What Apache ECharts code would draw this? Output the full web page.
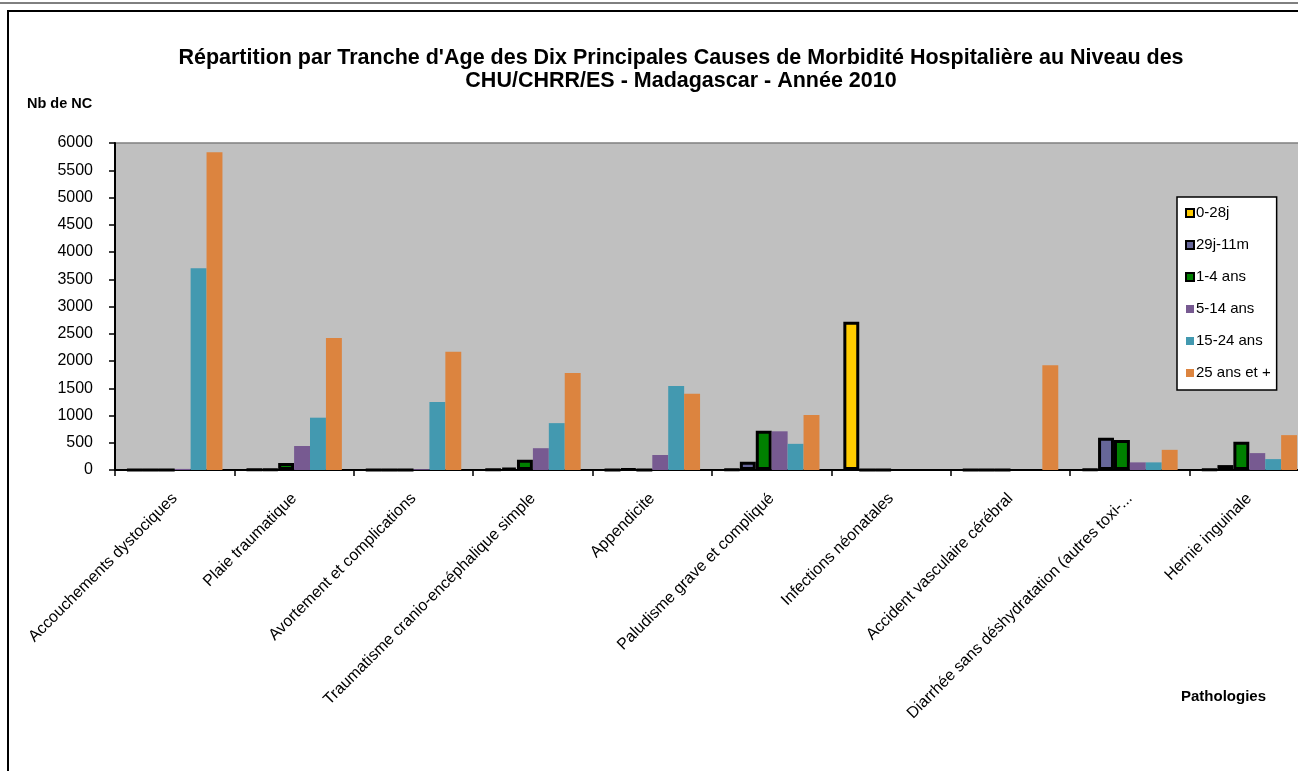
<!DOCTYPE html>
<html><head><meta charset="utf-8">
<script src="https://cdn.jsdelivr.net/npm/echarts@6/dist/echarts.min.js"></script>
<style>html,body{margin:0;padding:0;background:#fff;overflow:hidden;width:1298px;height:771px}#c{width:1316px;height:771px}</style>
</head><body><div id="c"></div>
<script>
const categories = ["Accouchements dystociques","Plaie traumatique","Avortement et complications","Traumatisme cranio-encéphalique simple","Appendicite","Paludisme grave et compliqué","Infections néonatales","Accident vasculaire cérébral","Diarrhée sans déshydratation (autres toxi-...","Hernie inguinale"];
const seriesNames = ["0-28j","29j-11m","1-4 ans","5-14 ans","15-24 ans","25 ans et +"];
const s0_28j   = [0, 5, 0, 5, 0, 10, 2720, 0, 10, 10];
const s29j_11m = [0, 10, 0, 40, 20, 150, 0, 0, 590, 90];
const s1_4     = [0, 130, 0, 190, 0, 720, 0, 0, 550, 520];
const s5_14    = [20, 440, 15, 400, 275, 710, 0, 0, 140, 310];
const s15_24   = [3700, 960, 1250, 860, 1540, 480, 0, 0, 140, 200];
const s25plus  = [5830, 2420, 2170, 1780, 1400, 1010, 0, 1920, 370, 640];
const yTicks = [0,500,1000,1500,2000,2500,3000,3500,4000,4500,5000,5500,6000];

const colors = ["#FFCC00","#666699","#008000","#775A91","#4399B0","#DC843F"];
const bordered = [true,true,true,false,false,false];
const dataArr = [s0_28j,s29j_11m,s1_4,s5_14,s15_24,s25plus];
const F = "'Liberation Sans', Arial, sans-serif";

const chart = echarts.init(document.getElementById('c'));
chart.setOption({
  animation:false,
  backgroundColor:'#fff',
  title:{
    text:"Répartition par Tranche d'Age des Dix Principales Causes de Morbidité Hospitalière au Niveau des\nCHU/CHRR/ES - Madagascar - Année 2010",
    left:676, top:42, textAlign:'center',
    textStyle:{fontFamily:F,fontSize:21.5,fontWeight:'bold',color:'#000',lineHeight:23}
  },
  graphic:[
    {type:'line',shape:{x1:0,y1:3,x2:1316,y2:3},style:{stroke:'#000',lineWidth:1}},
    {type:'line',shape:{x1:7,y1:11,x2:1316,y2:11},style:{stroke:'#000',lineWidth:2}},
    {type:'line',shape:{x1:8,y1:11,x2:8,y2:771},style:{stroke:'#000',lineWidth:2}},
    {type:'text',left:27,top:96,style:{text:'Nb de NC',font:"bold 14.5px 'Liberation Sans', Arial",fill:'#000'}},
    {type:'text',left:1181,top:689,style:{text:'Pathologies',font:"bold 15px 'Liberation Sans', Arial",fill:'#000'}}
  ],
  legend:{
    orient:'vertical', left:1177, top:197,
    backgroundColor:'#fff', borderColor:'#000', borderWidth:1.5,
    padding:[8,6,9,8],
    itemWidth:8, itemHeight:8, itemGap:16,
    textStyle:{fontFamily:F,fontSize:15,color:'#000',lineHeight:16,padding:[0,0,0,-3]},
    data:seriesNames.map(n=>({name:n,icon:'rect'}))
  },
  grid:{left:115, top:143, width:1194, height:327, show:true, backgroundColor:'#C0C0C0', borderColor:'#808080', borderWidth:1.5, containLabel:false},
  xAxis:{
    type:'category', data:categories,
    axisLine:{lineStyle:{color:'#000',width:2}},
    axisTick:{show:true,alignWithLabel:false,length:6,lineStyle:{color:'#000',width:1.5}},
    axisLabel:{rotate:45,fontFamily:F,fontSize:16,color:'#000',margin:26,interval:0}
  },
  yAxis:{
    type:'value', min:0, max:6000, interval:500,
    axisLine:{show:true,lineStyle:{color:'#000',width:2}},
    axisTick:{show:true,inside:false,length:6,lineStyle:{color:'#000',width:1.5}},
    splitLine:{show:false},
    axisLabel:{fontFamily:F,fontSize:16,color:'#000',margin:22,
      formatter:v=>yTicks.includes(v)?String(v):''}
  },
  series:seriesNames.map((n,i)=>({
    name:n, type:'bar', data:dataArr[i],
    barGap:'0%', barCategoryGap:'20%',
    itemStyle:{color:colors[i], borderColor:bordered[i]?'#000':colors[i], borderWidth:bordered[i]?3:0}
  }))
});
</script></body></html>
